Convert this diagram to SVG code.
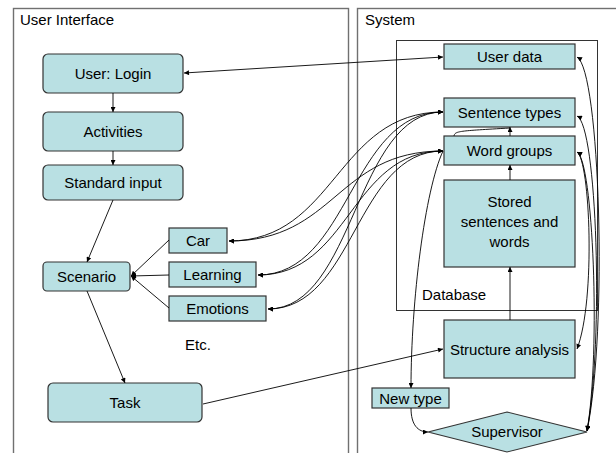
<svg xmlns="http://www.w3.org/2000/svg" width="616" height="453" viewBox="0 0 616 453">
  <style>
    text { font-family: "Liberation Sans", Arial, sans-serif; font-size: 15px; fill: #000; }
    .mid { text-anchor: middle; }
    .panel { fill: #fff; stroke: #707070; stroke-width: 1.4; }
    .db { fill: none; stroke: #333; stroke-width: 1; }
    .node { fill: #b9e0e3; stroke: #333; stroke-width: 1.2; }
    .conn path { fill: none; stroke: #000; stroke-width: 0.9; }
    .one { marker-end: url(#ah); }
    .two { marker-start: url(#ah); marker-end: url(#ah); }
  </style>
  <defs>
    <marker id="ah" viewBox="0 0 10 10" refX="10" refY="5" markerWidth="6" markerHeight="5" markerUnits="userSpaceOnUse" orient="auto-start-reverse">
      <path d="M0,0 L10,5 L0,10 z" fill="#000"/>
    </marker>
  </defs>

  <rect width="616" height="453" fill="#fff"/>

  <!-- panels -->
  <g id="panel-ui">
    <rect class="panel" x="13.5" y="8.5" width="335" height="470"/>
    <text x="20" y="25">User Interface</text>
  </g>
  <g id="panel-system">
    <rect class="panel" x="357.5" y="8.5" width="280" height="470"/>
    <text x="365" y="25">System</text>
  </g>
  <g id="database">
    <rect class="db" x="396.5" y="40.5" width="201" height="270"/>
    <text x="422" y="300">Database</text>
  </g>

  <!-- user interface nodes -->
  <g id="login">
    <rect class="node" x="43" y="54" width="140" height="39" rx="5"/>
    <text class="mid" x="113" y="79">User: Login</text>
  </g>
  <g id="activities">
    <rect class="node" x="43" y="112" width="140" height="39" rx="5"/>
    <text class="mid" x="113" y="137">Activities</text>
  </g>
  <g id="standard-input">
    <rect class="node" x="43" y="165" width="140" height="35" rx="5"/>
    <text class="mid" x="113" y="188">Standard input</text>
  </g>
  <g id="scenario">
    <rect class="node" x="43" y="262" width="87" height="29" rx="4"/>
    <text class="mid" x="86.5" y="282">Scenario</text>
  </g>
  <g id="car">
    <rect class="node" x="169" y="228" width="58" height="25"/>
    <text class="mid" x="198" y="246">Car</text>
  </g>
  <g id="learning">
    <rect class="node" x="169" y="262" width="87" height="25"/>
    <text class="mid" x="212.5" y="280">Learning</text>
  </g>
  <g id="emotions">
    <rect class="node" x="169" y="296" width="97" height="25"/>
    <text class="mid" x="217.5" y="314">Emotions</text>
  </g>
  <g id="etc">
    <text x="185" y="350">Etc.</text>
  </g>
  <g id="task">
    <rect class="node" x="48" y="383" width="154" height="39" rx="5"/>
    <text class="mid" x="125" y="408">Task</text>
  </g>

  <!-- system nodes -->
  <g id="user-data">
    <rect class="node" x="444" y="44" width="131" height="25"/>
    <text class="mid" x="509.5" y="62">User data</text>
  </g>
  <g id="sentence-types">
    <rect class="node" x="444" y="98" width="131" height="29"/>
    <text class="mid" x="509.5" y="118">Sentence types</text>
  </g>
  <g id="word-groups">
    <rect class="node" x="444" y="136" width="131" height="29"/>
    <text class="mid" x="509.5" y="156">Word groups</text>
  </g>
  <g id="stored">
    <rect class="node" x="444" y="180" width="131" height="87"/>
    <text class="mid" x="509.5" y="207">Stored</text>
    <text class="mid" x="509.5" y="227">sentences and</text>
    <text class="mid" x="509.5" y="247">words</text>
  </g>
  <g id="structure-analysis">
    <rect class="node" x="444" y="320" width="131" height="58"/>
    <text class="mid" x="509.5" y="354.5">Structure analysis</text>
  </g>
  <g id="new-type">
    <rect class="node" x="372" y="388" width="77" height="20"/>
    <text class="mid" x="410.5" y="403.5">New type</text>
  </g>
  <g id="supervisor">
    <polygon class="node" points="507,412 587,432 507,452 428,432"/>
    <text class="mid" x="507" y="437">Supervisor</text>
  </g>

  <!-- connectors -->
  <g id="connectors" class="conn">
    <path class="two" d="M184,73 L443,57"/>
    <path class="one" d="M113,93 L113,112"/>
    <path class="one" d="M113,151 L113,165"/>
    <path class="one" d="M113,200 L87,262"/>
    <path class="one" d="M169,240 L131,276"/>
    <path class="one" d="M169,275 L131,276"/>
    <path class="one" d="M169,308 L131,276"/>
    <path class="one" d="M87,291 L125,383"/>
    <path class="one" d="M203,404 L443,349"/>

    <!-- scenario variants to sentence types / word groups -->
    <path class="two" d="M229,241 C336,241 336,112 443,112"/>
    <path class="two" d="M229,241 C336,241 336,151 443,151"/>
    <path class="two" d="M258,275 C350,275 350,112 443,112"/>
    <path class="two" d="M258,275 C350,275 350,151 443,151"/>
    <path class="two" d="M268,309 C355,309 355,112 443,112"/>
    <path class="two" d="M268,309 C355,309 355,151 443,151"/>

    <!-- database internals -->
    <path class="one" d="M510,180 L510,165"/>
    <path class="one" d="M510,136 L510,127"/>
    <path d="M454,136 C455,131 458,131 510,128"/>
    <path class="one" d="M510,320 L510,267"/>

    <!-- new type path -->
    <path class="one" d="M443,151 C425,190 411,300 411,388"/>
    <path class="one" d="M411,408 C411,425 418,432 428,432"/>

    <!-- right-hand return paths -->
    <path class="two" d="M577,57 C600,70 608,330 587,431"/>
    <path class="two" d="M577,116 C597,125 604,340 587,431"/>
    <path class="two" d="M577,152 C593,160 601,350 587,431"/>
    <path class="two" d="M577,152 C590,160 596,300 577,349"/>
  </g>
</svg>
